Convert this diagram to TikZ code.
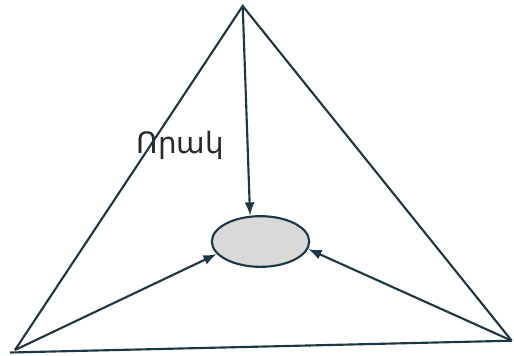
\documentclass[tikz,border=0pt]{standalone}
\usepackage{fontspec}
\newfontfamily\armfont{DejaVu Sans}
\usetikzlibrary{arrows.meta,shapes.geometric}
\definecolor{linec}{RGB}{30,55,70}
\definecolor{txtc}{RGB}{40,40,40}
\definecolor{ellfill}{RGB}{217,217,217}
\tikzset{
  side/.style={draw=linec, line width=1.6pt},
  arr/.style={draw=linec, line width=1.6pt, -{Latex[length=10pt,width=7.5pt]}},
  quality/.style={draw=linec, line width=1.6pt, fill=ellfill, ellipse, minimum width=73pt, minimum height=38pt, inner sep=0pt},
  lbl/.style={font=\armfont\fontsize{22}{26}\selectfont, text=txtc, inner sep=0pt, anchor=base west}
}
\begin{document}
\begin{tikzpicture}[x=0.75pt,y=-0.75pt]
\useasboundingbox (0,0) rectangle (514,355);
\coordinate (A) at (242.7,6);
\coordinate (BL) at (15,350);
\coordinate (BR) at (511.7,340.7);
\coordinate (BL2) at (10,352.5);
\node[quality] (E) at (260.5,241.5) {};
\node[lbl] (T) at (136.5,153) {Որակ};
\draw[side] (BL) -- (A) -- (BR);
\draw[side] (BL2) -- (BR);
\draw[arr] (A) -- (E.112);
\draw[arr] (BL) -- (E.196);
\draw[arr] (BR) -- (E.351);
\end{tikzpicture}
\end{document}
